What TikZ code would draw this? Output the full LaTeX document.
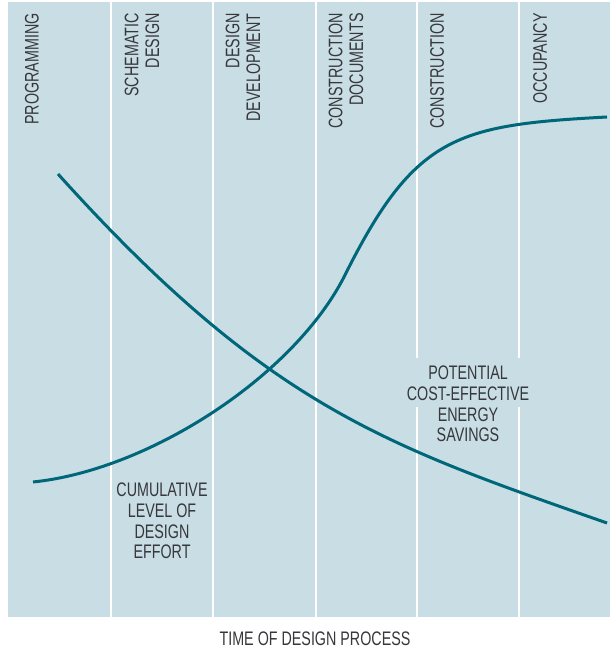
\documentclass[tikz,border=0pt]{standalone}
\usepackage{fontspec}
\setmainfont[FakeStretch=0.73]{Liberation Sans}
\usetikzlibrary{positioning}
\definecolor{panel}{RGB}{200,222,228}
\definecolor{curve}{RGB}{0,102,122}
\definecolor{ink}{RGB}{55,55,60}

\begin{document}
\begin{tikzpicture}[x=0.5pt,y=-0.5pt,inner sep=0pt,text=ink,
                    font=\fontsize{9.8}{10.4}\selectfont]
  \tikzstyle{phase}=[rotate=90,anchor=east,align=right]
  \tikzstyle{divider}=[white,line width=0.6pt]
  \tikzstyle{trend}=[curve,line width=1.5pt]
  % \tikzstyle{trend}=[curve,line width=1.5pt,line cap=round]

  \useasboundingbox (0,0) rectangle (610,651);
  \fill[panel] (8,2) rectangle (610,617);
  \draw[divider] (111,2) -- (111,617) (213,2) -- (213,617)
                 (316,2) -- (316,617) (417,2) -- (417,617)
                 (519,2) -- (519,617);
  \fill[panel] (412,358) rectangle (525,407);

  \node[phase] (prog)  at (32,13)  {PROGRAMMING};
  \node[phase] (schem) at (142,13) {SCHEMATIC\\DESIGN};
  \node[phase] (dev)   at (243,13) {DESIGN\\DEVELOPMENT};
  \node[phase] (docs)  at (346,13) {CONSTRUCTION\\DOCUMENTS};
  \node[phase] (build) at (437,13) {CONSTRUCTION};
  \node[phase] (occ)   at (540,13) {OCCUPANCY};

  \coordinate (s0) at (58,174);
  \coordinate (s1) at (607,523);
  \coordinate (e0) at (33,482);
  \coordinate (em) at (345,275);
  \coordinate (e1) at (607,117);
  \draw[trend] (s0) .. controls (268,407) and (387,446) .. (s1);
  \draw[trend] (e0) .. controls (150,470) and (295,375) .. (em)
                    .. controls (415,135) and (457,125) .. (e1);

  \node[align=center] (effort)  at (162,521) {CUMULATIVE\\LEVEL OF\\DESIGN\\EFFORT};
  \node[align=center] (savings) at (468,404) {POTENTIAL\\COST-EFFECTIVE\\ENERGY\\SAVINGS};
  \node (time) at (315,639) {TIME OF DESIGN PROCESS};
\end{tikzpicture}
\end{document}
